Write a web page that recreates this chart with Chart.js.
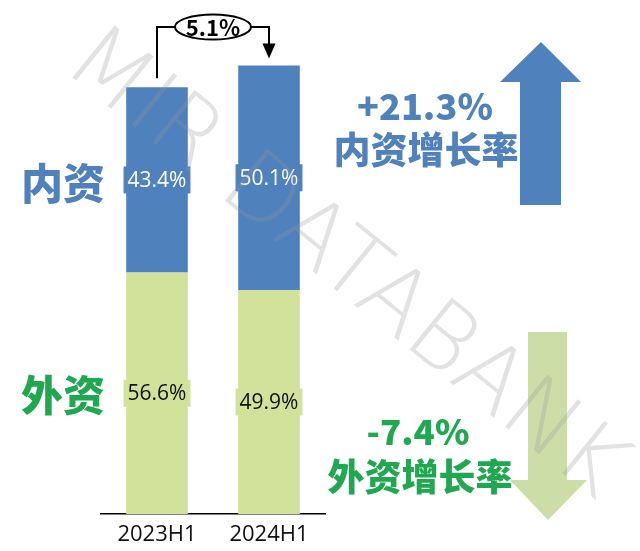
<!DOCTYPE html>
<html>
<head>
<meta charset="utf-8">
<script src="https://cdn.jsdelivr.net/npm/chart.js@4/dist/chart.umd.min.js"></script>
<style>
  html, body { margin: 0; padding: 0; background: #fff; }
  #wrap { width: 640px; height: 551px; }
</style>
</head>
<body>
<div id="wrap"><canvas id="chart" width="640" height="551"></canvas></div>
<script>
// Data (bar heights scaled so 2023H1 total = 100)
const periods = ['2023H1', '2024H1'];
const domesticValues = [43.4, 52.6];
const foreignValues = [56.6, 52.5];
const domesticShares = ['43.4%', '50.1%'];
const foreignShares = ['56.6%', '49.9%'];
const totalGrowth = '5.1%';
const domesticGrowth = '+21.3%';
const foreignGrowth = '-7.4%';

// Colours
const BLUE = '#4f81bd';
const LIME = '#d2e29b';
const GREEN_TEXT = '#1fa84f';
const ARROW_GREEN = '#c9da9f';
const CJK = '"Noto Sans CJK SC", "Noto Sans", sans-serif';

// Labels inside each segment
const segmentLabels = {
    id: 'segmentLabels',
    afterDatasetsDraw(chart) {
        const ctx = chart.ctx;
        const sets = [
            { meta: chart.getDatasetMeta(0), texts: foreignShares, bg: LIME, fg: '#111' },
            { meta: chart.getDatasetMeta(1), texts: domesticShares, bg: BLUE, fg: '#fff' }
        ];
        ctx.save();
        ctx.font = '21px "Open Sans", sans-serif';
        ctx.textAlign = 'center';
        ctx.textBaseline = 'middle';
        sets.forEach(s => {
            s.meta.data.forEach((bar, i) => {
                const cy = (bar.y + bar.base) / 2;
                const w = ctx.measureText(s.texts[i]).width + 8;
                ctx.fillStyle = s.bg;
                ctx.fillRect(bar.x - w / 2, cy - 13.5, w, 27);
                ctx.fillStyle = s.fg;
                ctx.fillText(s.texts[i], bar.x, cy + 1);
            });
        });
        ctx.restore();
    }
};

// Growth bracket, side labels, arrows and watermark
const decorations = {
    id: 'decorations',
    afterDraw(chart) {
        const ctx = chart.ctx;
        const top = chart.getDatasetMeta(1).data;
        const b0 = top[0], b1 = top[1];
        const lineY = 27;
        const cx = (b0.x + b1.x) / 2;

        ctx.save();
        // bracket
        ctx.strokeStyle = '#000';
        ctx.lineWidth = 2;
        ctx.beginPath();
        ctx.moveTo(b0.x, b0.y - 9);
        ctx.lineTo(b0.x, lineY);
        ctx.lineTo(cx - 38, lineY);
        ctx.moveTo(cx + 38, lineY);
        ctx.lineTo(b1.x, lineY);
        ctx.lineTo(b1.x, b1.y - 21);
        ctx.stroke();
        ctx.fillStyle = '#000';
        ctx.beginPath();
        ctx.moveTo(b1.x - 6.5, b1.y - 22);
        ctx.lineTo(b1.x + 6.5, b1.y - 22);
        ctx.lineTo(b1.x, b1.y - 7);
        ctx.closePath();
        ctx.fill();
        ctx.fillStyle = '#fff';
        ctx.beginPath();
        ctx.ellipse(cx, lineY, 38, 12.5, 0, 0, Math.PI * 2);
        ctx.fill();
        ctx.stroke();
        ctx.fillStyle = '#000';
        ctx.font = 'bold 22px ' + CJK;
        ctx.textAlign = 'center';
        ctx.textBaseline = 'middle';
        ctx.fillText(totalGrowth, cx, lineY + 1);

        // left series names
        ctx.font = '900 42px ' + CJK;
        ctx.fillStyle = BLUE;
        ctx.fillText('内资', 63, 183);
        ctx.fillStyle = GREEN_TEXT;
        ctx.fillText('外资', 63, 395);

        // up arrow
        ctx.fillStyle = BLUE;
        ctx.beginPath();
        ctx.moveTo(520, 205);
        ctx.lineTo(520, 82);
        ctx.lineTo(500, 82);
        ctx.lineTo(541, 42);
        ctx.lineTo(581, 82);
        ctx.lineTo(561, 82);
        ctx.lineTo(561, 205);
        ctx.closePath();
        ctx.fill();

        // growth texts
        ctx.fillStyle = BLUE;
        ctx.font = '900 36px ' + CJK;
        ctx.fillText(domesticGrowth, 425, 106);
        ctx.font = '900 37px ' + CJK;
        ctx.fillText('内资增长率', 426, 150);
        ctx.fillStyle = GREEN_TEXT;
        ctx.font = '900 35px ' + CJK;
        ctx.fillText(foreignGrowth, 418, 432);
        ctx.font = '900 37px ' + CJK;
        ctx.fillText('外资增长率', 420, 477);

        // down arrow (semi-transparent, over the text edge)
        ctx.fillStyle = ARROW_GREEN;
        ctx.globalAlpha = 0.92;
        ctx.beginPath();
        ctx.moveTo(528, 332);
        ctx.lineTo(567, 332);
        ctx.lineTo(567, 480);
        ctx.lineTo(587, 480);
        ctx.lineTo(548, 520);
        ctx.lineTo(510, 480);
        ctx.lineTo(528, 480);
        ctx.closePath();
        ctx.fill();
        ctx.globalAlpha = 1;

        // watermark
        ctx.translate(344, 266);
        ctx.rotate(Math.atan2(402, 498));
        ctx.font = '200 92px "DejaVu Sans", sans-serif';
        ctx.fillStyle = 'rgba(150,150,150,0.28)';
        ctx.fillText('MIR DATABANK', 0, 0);
        ctx.restore();
    }
};

new Chart(document.getElementById('chart'), {
    type: 'bar',
    data: {
        labels: periods,
        datasets: [
            { label: '外资', data: foreignValues, backgroundColor: LIME, barPercentage: 0.55, categoryPercentage: 1 },
            { label: '内资', data: domesticValues, backgroundColor: BLUE, barPercentage: 0.55, categoryPercentage: 1 }
        ]
    },
    options: {
        responsive: false,
        animation: false,
        layout: { padding: { left: 101, right: 315, top: 2, bottom: 0 } },
        plugins: { legend: { display: false }, tooltip: { enabled: false } },
        scales: {
            x: {
                stacked: true,
                grid: { display: false },
                border: { display: true, color: '#000', width: 1.5 },
                ticks: { color: '#111', padding: 0, font: { size: 22, family: '"Open Sans", sans-serif' } },
                afterFit: (scale) => { scale.height = 37; }
            },
            y: { stacked: true, display: false, min: 0, max: 120 }
        }
    },
    plugins: [segmentLabels, decorations]
});
</script>
</body>
</html>
